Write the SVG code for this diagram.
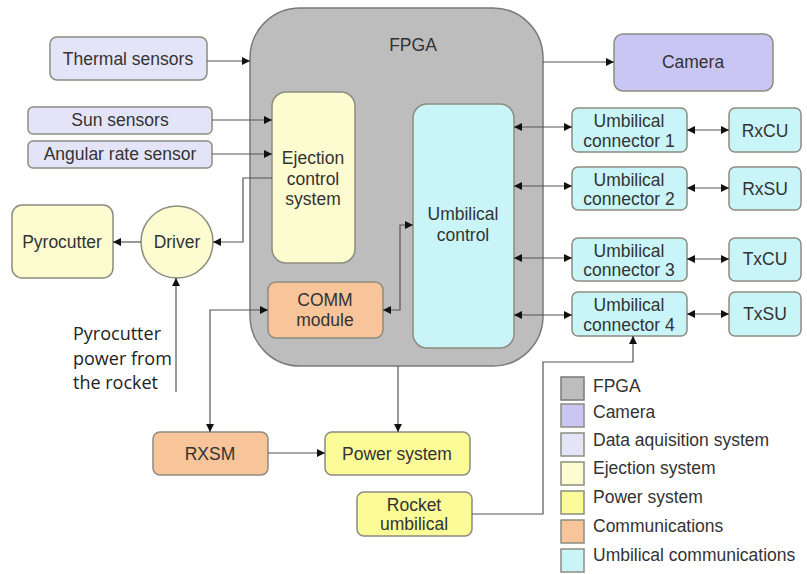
<svg xmlns="http://www.w3.org/2000/svg" width="807" height="574" viewBox="0 0 807 574">
<defs>
<marker id="ah" viewBox="0 0 10 10" refX="10" refY="5" markerWidth="8" markerHeight="8" markerUnits="userSpaceOnUse" orient="auto-start-reverse">
<path d="M0,0 L10,5 L0,10 z" fill="#111"/>
</marker>
<style>
text{font-family:"Liberation Sans",Arial,sans-serif;font-size:17.5px;fill:#333;text-anchor:middle;dominant-baseline:central}
.n{stroke:#8c8c80;stroke-width:1.5}
.fpga{fill:#bdbdbd;stroke:#7a7a7a;stroke-width:1.5}
.cam{fill:#c9c6f4}
.daq{fill:#e4e4f8}
.ej{fill:#fdfbd0}
.pw{fill:#fbfb98}
.cm{fill:#f8c49a}
.um{fill:#c9f5f8}
.c{fill:none;stroke:#555;stroke-width:1.2}
.lg{text-anchor:start}
.note{font-family:"Open Sans","Noto Sans",sans-serif;font-size:18px;text-anchor:start;fill:#222}
</style>
</defs>
<rect width="807" height="574" fill="#fff"/>

<g id="fpga"><rect class="fpga" x="250" y="8" width="293" height="358" rx="50"/><text x="413" y="45">FPGA</text></g>

<g id="thermal"><rect class="n daq" x="50" y="37" width="157" height="43" rx="7"/><text x="128" y="59">Thermal sensors</text></g>
<g id="sun"><rect class="n daq" x="28" y="107" width="184" height="27" rx="5"/><text x="120" y="120">Sun sensors</text></g>
<g id="angular"><rect class="n daq" x="28" y="141" width="184" height="27" rx="5"/><text x="120" y="154">Angular rate sensor</text></g>

<g id="ejection"><rect class="n ej" x="272" y="92" width="83" height="171" rx="14"/><text x="313" y="158">Ejection</text><text x="313" y="179">control</text><text x="313" y="199">system</text></g>
<g id="comm"><rect class="n cm" x="268" y="282" width="115" height="56" rx="8"/><text x="325" y="300">COMM</text><text x="325" y="320">module</text></g>
<g id="umbctrl"><rect class="n um" x="413" y="104" width="101" height="244" rx="14"/><text x="463" y="214">Umbilical</text><text x="463" y="235">control</text></g>

<g id="camera"><rect class="n cam" x="614" y="34" width="159" height="57" rx="9"/><text x="693" y="62">Camera</text></g>

<g id="uc1"><rect class="n um" x="572" y="108" width="115" height="44" rx="6"/><text x="629" y="121">Umbilical</text><text x="629" y="141">connector 1</text></g>
<g id="uc2"><rect class="n um" x="572" y="167" width="115" height="43" rx="6"/><text x="629" y="180">Umbilical</text><text x="629" y="199">connector 2</text></g>
<g id="uc3"><rect class="n um" x="572" y="238" width="115" height="43" rx="6"/><text x="629" y="251">Umbilical</text><text x="629" y="270">connector 3</text></g>
<g id="uc4"><rect class="n um" x="572" y="292" width="115" height="44" rx="6"/><text x="629" y="305">Umbilical</text><text x="629" y="325">connector 4</text></g>

<g id="rxcu"><rect class="n um" x="729" y="108" width="72" height="44" rx="6"/><text x="765" y="131">RxCU</text></g>
<g id="rxsu"><rect class="n um" x="729" y="167" width="72" height="43" rx="6"/><text x="765" y="189">RxSU</text></g>
<g id="txcu"><rect class="n um" x="729" y="238" width="72" height="43" rx="6"/><text x="765" y="259">TxCU</text></g>
<g id="txsu"><rect class="n um" x="729" y="292" width="72" height="44" rx="6"/><text x="765" y="314">TxSU</text></g>

<g id="driver"><circle class="n ej" cx="177" cy="242" r="36"/><text x="177" y="242">Driver</text></g>
<g id="pyrocutter"><rect class="n ej" x="12" y="205" width="101" height="73" rx="10"/><text x="62" y="242">Pyrocutter</text></g>

<g id="rxsm"><rect class="n cm" x="153" y="432" width="115" height="43" rx="7"/><text x="210" y="454">RXSM</text></g>
<g id="power"><rect class="n pw" x="325" y="432" width="145" height="43" rx="7"/><text x="397" y="454">Power system</text></g>
<g id="rocketumb"><rect class="n pw" x="357" y="492" width="115" height="44" rx="7"/><text x="414" y="505">Rocket</text><text x="414" y="524">umbilical</text></g>

<g id="note"><text class="note" x="73" y="333">Pyrocutter</text><text class="note" x="73" y="358">power from</text><text class="note" x="73" y="382">the rocket</text></g>

<g id="connectors">
<line class="c" x1="207" y1="61" x2="250" y2="61" marker-end="url(#ah)"/>
<line class="c" x1="212" y1="120" x2="272" y2="120" marker-end="url(#ah)"/>
<line class="c" x1="212" y1="154" x2="272" y2="154" marker-end="url(#ah)"/>
<line class="c" x1="543" y1="62" x2="614" y2="62" marker-end="url(#ah)"/>
<polyline class="c" points="272,178 243,178 243,242 213,242" marker-end="url(#ah)"/>
<line class="c" x1="141" y1="242" x2="113" y2="242" marker-end="url(#ah)"/>
<line class="c" x1="176" y1="392" x2="176" y2="278" marker-end="url(#ah)"/>
<polyline class="c" points="268,310 210,310 210,432" marker-start="url(#ah)" marker-end="url(#ah)"/>
<polyline class="c" points="383,310 400,310 400,225 413,225" marker-start="url(#ah)" marker-end="url(#ah)"/>
<line class="c" x1="514" y1="127" x2="572" y2="127" marker-start="url(#ah)" marker-end="url(#ah)"/>
<line class="c" x1="514" y1="186" x2="572" y2="186" marker-start="url(#ah)" marker-end="url(#ah)"/>
<line class="c" x1="514" y1="258" x2="572" y2="258" marker-start="url(#ah)" marker-end="url(#ah)"/>
<line class="c" x1="514" y1="315" x2="572" y2="315" marker-start="url(#ah)" marker-end="url(#ah)"/>
<line class="c" x1="687" y1="130" x2="729" y2="130" marker-start="url(#ah)" marker-end="url(#ah)"/>
<line class="c" x1="687" y1="188" x2="729" y2="188" marker-start="url(#ah)" marker-end="url(#ah)"/>
<line class="c" x1="687" y1="259" x2="729" y2="259" marker-start="url(#ah)" marker-end="url(#ah)"/>
<line class="c" x1="687" y1="314" x2="729" y2="314" marker-start="url(#ah)" marker-end="url(#ah)"/>
<line class="c" x1="398" y1="366" x2="398" y2="432" marker-end="url(#ah)"/>
<line class="c" x1="268" y1="453" x2="325" y2="453" marker-end="url(#ah)"/>
<polyline class="c" points="472,514 543,514 543,362 633,362 633,336" marker-end="url(#ah)"/>
</g>

<g id="legend">
<rect class="n fpga" x="561" y="377" width="23" height="23"/><text class="lg" x="593" y="386">FPGA</text>
<rect class="n cam" x="561" y="404" width="23" height="23"/><text class="lg" x="593" y="412">Camera</text>
<rect class="n daq" x="561" y="433" width="23" height="23"/><text class="lg" x="593" y="440">Data aquisition system</text>
<rect class="n ej" x="561" y="462" width="23" height="23"/><text class="lg" x="593" y="468">Ejection system</text>
<rect class="n pw" x="561" y="491" width="23" height="23"/><text class="lg" x="593" y="497">Power system</text>
<rect class="n cm" x="561" y="520" width="23" height="23"/><text class="lg" x="593" y="526">Communications</text>
<rect class="n um" x="561" y="549" width="23" height="23"/><text class="lg" x="593" y="555">Umbilical communications</text>
</g>
</svg>
